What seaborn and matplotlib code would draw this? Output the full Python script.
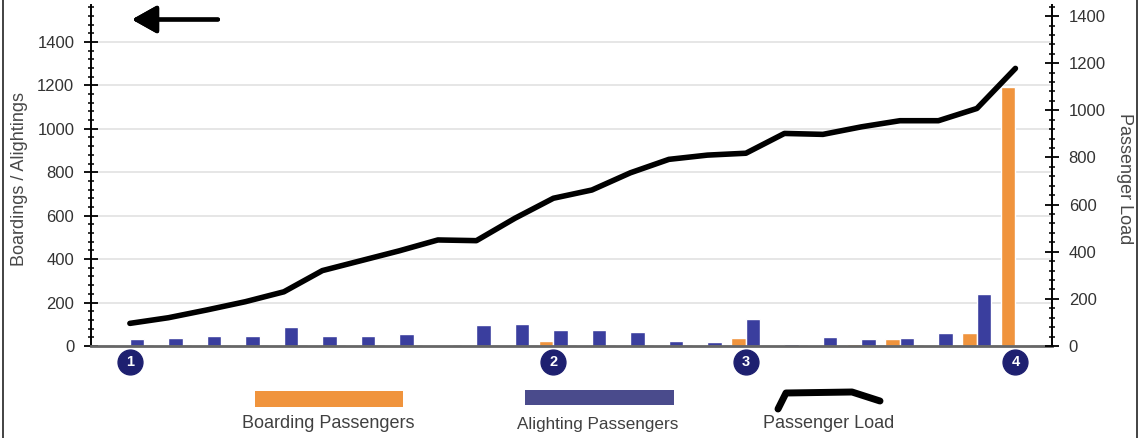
import numpy as np
import pandas as pd
import matplotlib.pyplot as plt
import seaborn as sns
from matplotlib.ticker import MultipleLocator
from matplotlib.lines import Line2D
from matplotlib.patches import Rectangle
import matplotlib.transforms as mtransforms

# stops along the route (24 stops, left to right)
stops = [str(i) for i in range(1, 25)]
boardings = [5, 5, 5, 5, 5, 5, 5, 5, 5, 5, 5, 25, 5, 5, 5, 5, 38, 5, 5, 8, 34, 6, 61, 1193]
alightings = [31, 37, 45, 46, 86, 46, 46, 54, 5, 97, 100, 74, 72, 63, 25, 17, 123, 8, 40, 34, 38, 58, 240, 5]
passenger_load = [96, 120, 153, 188, 230, 320, 362, 404, 450, 447, 542, 627, 662, 735,
                  792, 810, 818, 902, 898, 930, 956, 956, 1008, 1178]
timepoint_stops = ['1', '12', '17', '24']
timepoint_labels = ['1', '2', '3', '4']

ORANGE = '#F0943D'
BLUE = '#3A3E9E'
LEGEND_BLUE = '#4A4B8C'
NAVY = '#1E2070'
TEXT = '#333333'

W, H = 1142, 438

sns.set_theme(style='white')
plt.rcParams['font.family'] = ['Liberation Sans', 'DejaVu Sans']

df = pd.DataFrame({
    'stop': stops * 2,
    'passengers': boardings + alightings,
    'type': ['Boarding Passengers'] * len(stops) + ['Alighting Passengers'] * len(stops),
})

fig = plt.figure(figsize=(W / 100, H / 100), dpi=100)
ax = fig.add_axes([91 / W, 1 - 346 / H, (1052 - 91) / W, (346 - 5) / H])

sns.barplot(data=df, x='stop', y='passengers', hue='type', order=stops,
            hue_order=['Boarding Passengers', 'Alighting Passengers'],
            palette=[ORANGE, BLUE], saturation=1, width=0.75, gap=0,
            errorbar=None, legend=False, ax=ax)

ax2 = ax.twinx()
pos = np.arange(len(stops))
sns.lineplot(x=pos, y=passenger_load, ax=ax2, color='black', lw=4)

# axes limits
ax.set_xlim(-1.01, 23.95)
ax.set_ylim(0, 1570)
ax2.set_ylim(0, 1447)
ax.set_xticks([])
ax.set_xlabel('')

for a in (ax, ax2):
    a.yaxis.set_major_locator(MultipleLocator(200))
    a.yaxis.set_minor_locator(MultipleLocator(40))
    a.tick_params(axis='y', which='major', direction='inout', length=10, width=1.3,
                  color='black', labelsize=12, labelcolor=TEXT, pad=7)
    a.tick_params(axis='y', which='minor', direction='inout', length=5, width=1.1,
                  color='black')

ax.grid(axis='y', color='#e4e4e4', lw=1.3)
ax.set_axisbelow(True)
ax2.grid(False)

ax.spines['top'].set_visible(False)
ax.spines['right'].set_visible(False)
ax.spines['left'].set_color('black')
ax.spines['left'].set_linewidth(1.4)
ax.spines['bottom'].set_color('#666666')
ax.spines['bottom'].set_linewidth(2)
for s in ('top', 'left', 'bottom'):
    ax2.spines[s].set_visible(False)
ax2.spines['right'].set_color('black')
ax2.spines['right'].set_linewidth(1.4)

ax.set_ylabel('Boardings / Alightings', fontsize=13, color='#484848', va='center')
ax.yaxis.set_label_coords(-0.074, 0.49)
ax2.set_ylabel('Passenger Load', fontsize=13, color='#484848', rotation=270, va='center')
ax2.yaxis.set_label_coords(1.075, 0.49)

# timepoint markers below the axis
trans = mtransforms.blended_transform_factory(ax.transData, ax.transAxes)
tp_x = [stops.index(s) for s in timepoint_stops]
ax.scatter(tp_x, [-0.047] * len(tp_x), s=320, color=NAVY, transform=trans,
           clip_on=False, zorder=5)
for x, lab in zip(tp_x, timepoint_labels):
    ax.text(x, -0.047, lab, transform=trans, ha='center', va='center',
            color='white', fontsize=10.5, fontweight='bold', zorder=6)

# direction arrow
fig.add_artist(plt.annotate('', xy=(132 / W, 1 - 19.5 / H), xytext=(218 / W, 1 - 19.5 / H),
                            xycoords='figure fraction', textcoords='figure fraction',
                            arrowprops=dict(arrowstyle='-|>,head_length=0.5,head_width=0.28',
                                            lw=3, color='black', mutation_scale=30,
                                            shrinkA=0, shrinkB=0)))

# legend drawn below the chart
def fx(x):
    return x / W

def fy(y):
    return 1 - y / H

fig.add_artist(Rectangle((fx(255), fy(407)), (403 - 255) / W, 16 / H,
                         transform=fig.transFigure, color=ORANGE, lw=0))
fig.add_artist(Rectangle((fx(525), fy(405)), (674 - 525) / W, 15 / H,
                         transform=fig.transFigure, color=LEGEND_BLUE, lw=0))
fig.add_artist(Line2D([fx(778), fx(786), fx(852), fx(880)],
                      [fy(409), fy(393), fy(392), fy(401)],
                      transform=fig.transFigure, color='black', lw=5))
fig.text(fx(328), fy(424), 'Boarding Passengers', ha='center', va='center',
         fontsize=13, color='#404040')
fig.text(fx(598), fy(424), 'Alighting Passengers', ha='center', va='center',
         fontsize=12.3, color='#404040')
fig.text(fx(829), fy(424), 'Passenger Load', ha='center', va='center',
         fontsize=13, color='#404040')

# frame lines at the figure edges
fig.add_artist(Line2D([fx(3), fx(3)], [0, 1], transform=fig.transFigure, color='#222222', lw=1.2))
fig.add_artist(Line2D([fx(1137), fx(1137)], [0, 1], transform=fig.transFigure, color='#222222', lw=1.2))

fig.savefig('out.png', dpi=100)
